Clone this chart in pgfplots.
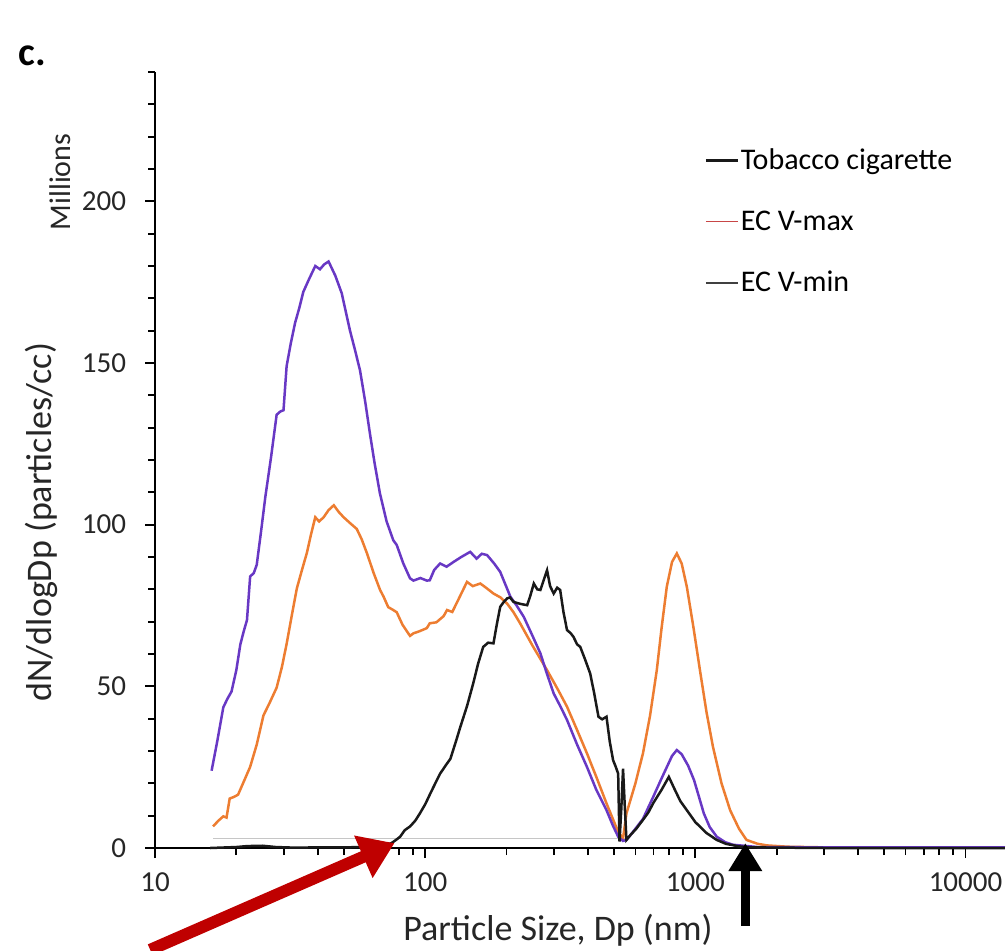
\documentclass[border=0pt]{standalone}
\usepackage{pgfplots}
\pgfplotsset{compat=1.18}
\usepackage{fontspec}
\setmainfont{Carlito}
\usetikzlibrary{arrows.meta}
\definecolor{ecmax}{RGB}{237,125,49}
\definecolor{ecmin}{RGB}{104,56,196}
\definecolor{tob}{RGB}{25,25,25}
\definecolor{legred}{RGB}{200,70,70}
\begin{document}
\begin{tikzpicture}
\begin{axis}[
    at={(0,0)}, anchor=south west,
    scale only axis,
    width=425pt, height=388pt,
    xmode=log,
    xmin=10, xmax=14000,
    ymin=0, ymax=240,
    axis lines*=left,
    axis line style={-, line width=1.3pt, black},
    xtick={10,100,1000,10000},
    xticklabels={10,100,1000,10000},
    ytick={0,50,100,150,200},
    minor ytick={10,20,30,40,60,70,80,90,110,120,130,140,160,170,180,190,210,220,230,240},
    tick align=outside,
    major tick length=5pt, minor tick length=3.5pt,
    every tick/.style={black, line width=0.9pt},
    /pgf/number format/assume math mode=true,
    ticklabel style={font=\fontsize{14.5}{16}\selectfont, text=black!85},
    xticklabel style={yshift=-4pt},
    yticklabel style={xshift=-6pt},
    xlabel={Particle Size, Dp (nm)},
    ylabel={dN/dlogDp (particles/cc)},
    label style={font=\fontsize{18}{21}\selectfont, text=black!85},
    xlabel style={at={(axis description cs:0.474,-0.106)}, anchor=center},
    ylabel style={at={(axis description cs:-0.134,0.42)}, anchor=center},
    clip=false,
    legend style={draw=none, fill=none, at={(0.639,0.909)}, anchor=north west,
        font=\fontsize{15}{17}\selectfont, row sep=17.5pt,
        nodes={inner sep=0.8pt}},
    legend cell align=left,
    legend image code/.code={\draw[#1] (0pt,0pt) -- (16pt,0pt);},
]
\addlegendimage{tob, line width=1.3pt}
\addlegendentry{Tobacco cigarette}
\addlegendimage{legred, line width=0.6pt}
\addlegendentry{EC V-max}
\addlegendimage{black!75, line width=1pt}
\addlegendentry{EC V-min}

% faint baseline
\addplot[gray!45, line width=0.5pt, forget plot] coordinates {(16.4,2.8) (560,2.8)};

% EC V-max (orange)
\addplot[ecmax, line width=1.25pt, forget plot] coordinates {
(16.4,6.7) (17.2,8.5) (17.9,9.8) (18.4,9.4) (18.9,15.3) (19.6,15.8) (20.3,16.5) (21.3,20.5) (22.5,25.1)
(23.8,32) (25.2,41) (26.6,45) (28.2,49.6) (29.5,56) (30.7,63.1) (32.1,72) (33.5,80.3) (35,86)
(36.5,91.3) (37.8,97) (39.2,102.3) (40.5,101) (42.1,102.3) (43.9,104.5) (45.9,106) (47.8,104)
(49.9,102.3) (52.7,100.5) (55.8,98.7) (58.2,95.5) (60.8,91.3) (64.5,85) (68.1,79.8) (70.1,77.8)
(73,74.5) (76.2,73.6) (78.5,72.9) (82.5,69) (87.9,65.6) (90.5,66.4) (95,67) (101.4,68) (104,69.5)
(110,69.8) (117,71.7) (120.5,73.6) (126,73) (133,77) (142.8,82.3) (150,81) (160,81.8) (168,80.5)
(179,78.7) (190,77.5) (201,75.6) (212,73) (224.6,69.5) (250,62.5) (282.6,55) (310,49) (335,43.7)
(365,36.5) (397,29.3) (430,22) (469,13.8) (495,9) (518,5) (540,3) (556,10.7) (600,20)
(640,29.3) (680,41) (720,55) (750,68) (784,80.8) (820,88.5) (854,91.1) (890,88) (930,80.8)
(985,68) (1040,55) (1100,42) (1162,31.3) (1250,20) (1345,11.7) (1450,6) (1547,2.5)
(1700,1.3) (1844,0.8) (2200,0.4) (3000,0.2) (14000,0.1)
};

% EC V-min (purple)
\addplot[ecmin, line width=1.25pt, forget plot] coordinates {
(16.2,23.9) (17,33) (17.9,43.5) (18.5,46) (19.2,48.4) (20,55) (20.7,63) (21.3,67) (21.9,70.5)
(22.5,84) (23.2,85) (23.8,87.6) (24.7,98) (25.6,108.5) (26.9,121) (28.2,134) (29.1,135)
(29.9,135.4) (30.7,149) (31.8,156) (33,162.4) (34.2,167) (35.4,172) (37.2,176) (39.2,180)
(40,179.5) (40.8,179) (42.3,180.5) (43.9,181.4) (46.5,177) (49.1,171.6) (50.8,166) (52.7,160)
(55,154) (57.4,147.7) (60,138) (62.5,128) (65,119) (68,109.7) (72,101) (76.2,95.2) (78.5,93.7)
(83,88) (87.9,83.4) (90.5,82.7) (96,83.5) (101.4,82.7) (104,82.8) (108,86) (113.6,88) (120,87)
(127.5,88.5) (136,90) (146.8,91.6) (155,89.5) (162,91) (169.5,90.6) (180,88) (189.6,85.4)
(206.8,77.7) (218,75) (231.7,71.5) (250,65.5) (267,60.2) (282,54) (299,47.8) (318,43.5)
(335,39.6) (365,32) (397,25.1) (430,18) (469,11.7) (495,7) (518,3.5) (540,2.2) (556,2.5)
(588,5) (640,9) (700,16) (745,21) (784,25) (820,28.5) (854,30.3) (890,29) (940,25.5)
(989,21) (1030,16) (1075,10.7) (1130,6.5) (1200,3.5) (1290,1.8) (1380,1) (1700,0.3)
(3000,0.2) (14000,0.2)
};

% Tobacco cigarette (black)
\addplot[tob, line width=1.25pt, forget plot] coordinates {
(16,0) (20,0.3) (22,0.6) (25,0.7) (28,0.3) (33,0.1) (40,0.2) (50,0.2) (60,0.3) (68,0.5)
(72,1) (75,1.5) (78,2.5) (80.8,3.5) (84,5.5) (88,6.7) (92,8.5) (95.6,10.7) (100,13.5)
(104,16.5) (109,20) (113.6,23) (119,25.5) (124,27.6) (130,33) (135,37.5) (143,44)
(150.6,50.9) (157,57) (164,62.2) (171,63.5) (179,63.3) (184,69) (189.6,74.6) (195,76)
(201,77.2) (206,77.5) (212.5,76.1) (225,75.5) (238.5,75.1) (245,78) (252.4,81.8) (260,80)
(267,79.8) (275,83) (282.6,85.9) (290,81) (299,78.7) (308,80.5) (316,79.8) (325,73)
(335,67.4) (345,66.5) (354,65.3) (365,63) (375,62.2) (390,58.5) (408,54) (422,48)
(438,40.6) (452,39.8) (469,40.6) (482,33) (496,27.2) (508,25) (518,23) (524,2)
(532,12) (540,24.5) (548,13) (556,2.5) (575,4) (605,6) (640,8.7) (670,11) (700,14)
(750,18) (798,22) (840,18) (880,14.5) (930,11.7) (1000,8) (1101,4.6) (1200,2.5)
(1297,1.3) (1450,0.5) (1600,0.2) (3000,0) (14000,0)
};

% annotation arrows
\draw[-{Triangle[length=17pt,width=22pt]}, line width=6pt, red!75!black]
    (axis cs:9.6,-31.5) -- (axis cs:77,1.5);
\draw[-{Triangle[length=14pt,width=16pt]}, line width=4.5pt, black]
    (axis cs:1531,-24) -- (axis cs:1531,1.5);
\end{axis}
\node[font=\bfseries\fontsize{20}{22}\selectfont, anchor=base west, inner sep=0pt] at (-68.5pt,391.5pt) {c.};
\node[rotate=90, font=\fontsize{15}{17}\selectfont, text=black!85] at (-47.5pt,333pt) {Millions};
\pgfresetboundingbox
\useasboundingbox (-77.5pt,-51pt) rectangle (426pt,424pt);
\end{tikzpicture}
\end{document}
